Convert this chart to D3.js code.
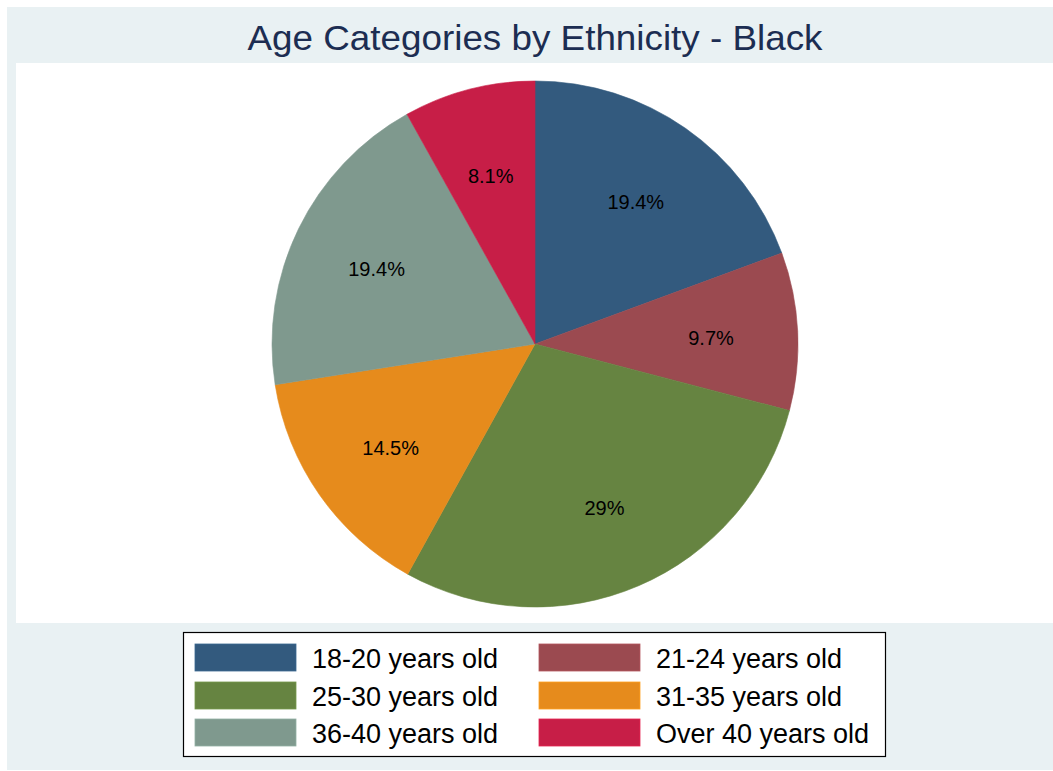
<!DOCTYPE html>
<html>
<head>
<meta charset="utf-8">
<script src="https://cdn.jsdelivr.net/npm/d3@7"></script>
<style>
  html, body { margin: 0; padding: 0; background: #ffffff; }
  svg { display: block; }
  text { font-family: Arial, "Liberation Sans", Helvetica, sans-serif; }
</style>
</head>
<body>
<svg id="chart" width="1053" height="771"></svg>
<script>
// Age groups and their share (%) of the Black respondents
const categories = ["18-20 years old", "21-24 years old", "25-30 years old",
                    "31-35 years old", "36-40 years old", "Over 40 years old"];
const shares = [19.4, 9.7, 29, 14.5, 19.4, 8.1];
const colors = ["#335a7e", "#9b4a50", "#668441", "#e68b1c", "#7f998e", "#c71e47"];
const title = "Age Categories by Ethnicity - Black";

const svg = d3.select("#chart");
const W = 1053, H = 771;

// Graph region and plot region backgrounds
svg.append("rect").attr("x", 7).attr("y", 7).attr("width", W).attr("height", 763)
  .attr("fill", "#e9f1f3");
svg.append("rect").attr("x", 16).attr("y", 63).attr("width", W).attr("height", 560)
  .attr("fill", "#ffffff");

// Title
svg.append("text")
  .attr("x", 535).attr("y", 50)
  .attr("text-anchor", "middle")
  .attr("font-size", 35)
  .attr("textLength", 575)
  .attr("lengthAdjust", "spacingAndGlyphs")
  .attr("fill", "#1c2d52")
  .text(title);

// Pie
const cx = 535, cy = 344, R = 263;
const data = categories.map((c, i) => ({ category: c, value: shares[i], color: colors[i] }));
const pie = d3.pie().sort(null).value(d => d.value);
const arcs = pie(data);
const arc = d3.arc().innerRadius(0).outerRadius(R);
const labelArc = d3.arc().innerRadius(R * 0.67).outerRadius(R * 0.67);

const g = svg.append("g").attr("transform", `translate(${cx},${cy})`);
g.selectAll("path.slice")
  .data(arcs)
  .join("path")
  .attr("class", "slice")
  .attr("d", arc)
  .attr("fill", d => d.data.color)
  .attr("stroke", d => d.data.color)
  .attr("stroke-width", 0.6);

g.selectAll("text.pct")
  .data(arcs)
  .join("text")
  .attr("class", "pct")
  .attr("transform", d => {
    const [x, y] = labelArc.centroid(d);
    return `translate(${x},${y + 2.5})`;
  })
  .attr("text-anchor", "middle")
  .attr("dominant-baseline", "central")
  .attr("font-size", 20)
  .attr("fill", "#000000")
  .text(d => d.data.value + "%");

// Legend: two columns, three rows
const legend = svg.append("g");
legend.append("rect")
  .attr("x", 183.5).attr("y", 632.5).attr("width", 702).attr("height", 124)
  .attr("fill", "#ffffff").attr("stroke", "#000000").attr("stroke-width", 1.2);

const colX = [195, 539];
const rowY = [644, 682, 719];
const items = legend.selectAll("g.item")
  .data(data)
  .join("g")
  .attr("class", "item")
  .attr("transform", (d, i) => `translate(${colX[i % 2]},${rowY[Math.floor(i / 2)]})`);
items.append("rect")
  .attr("width", 101).attr("height", 27)
  .attr("fill", d => d.color)
  .attr("stroke", d => d3.color(d.color).brighter(0.4))
  .attr("stroke-width", 0.8);
items.append("text")
  .attr("x", 117).attr("y", 14.5)
  .attr("dominant-baseline", "central")
  .attr("font-size", 27)
  .attr("fill", "#000000")
  .text(d => d.category);
</script>
</body>
</html>
